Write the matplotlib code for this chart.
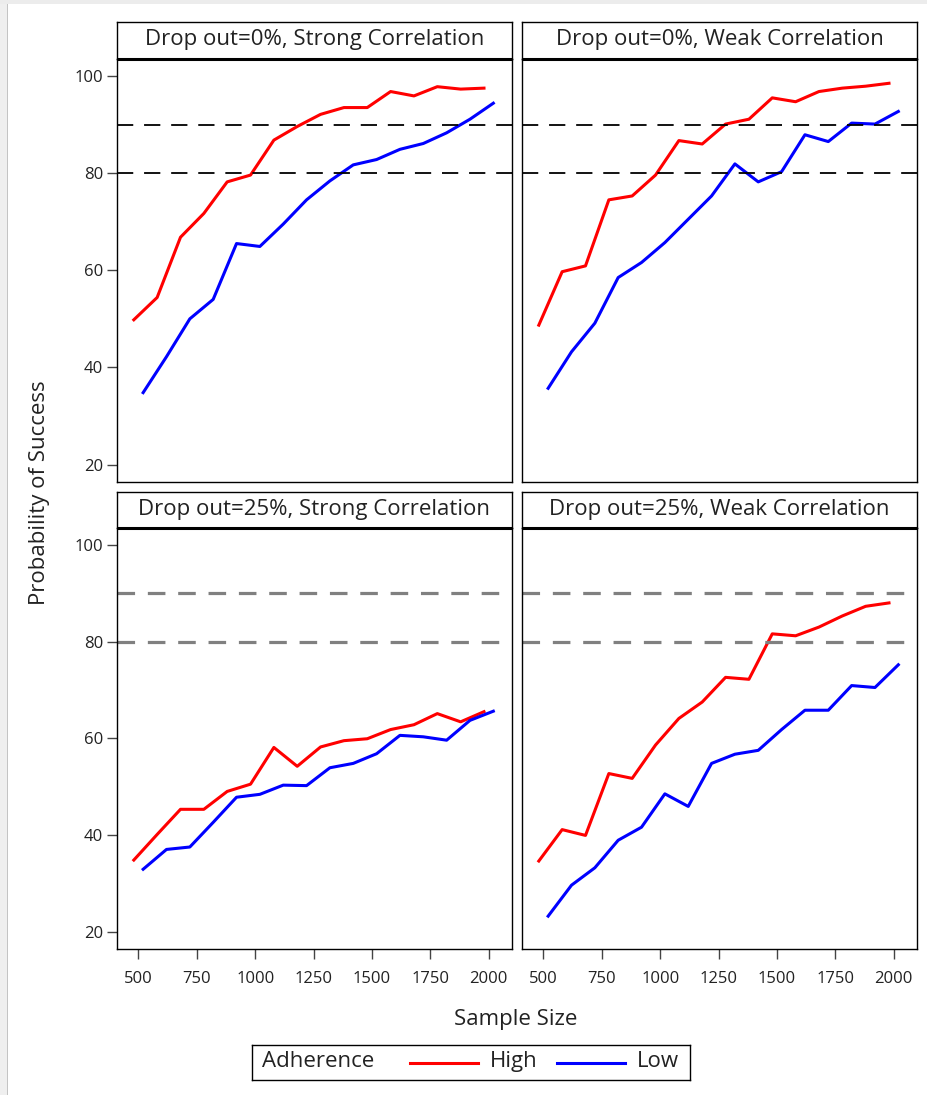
import matplotlib
matplotlib.use("Agg")
import matplotlib.pyplot as plt
from matplotlib.patches import Rectangle
import numpy as np

plt.rcParams['font.family'] = ['Open Sans', 'DejaVu Sans']

# sample sizes, the two adherence groups are dodged by +-20
sizes = np.arange(500, 2001, 100)
x_high = sizes - 20
x_low = sizes + 20

panel_titles = ["Drop out=0%, Strong Correlation", "Drop out=0%, Weak Correlation",
                "Drop out=25%, Strong Correlation", "Drop out=25%, Weak Correlation"]

high_d0_strong = [49.8, 54.4, 66.8, 71.7, 78.2, 79.6, 86.8, 89.6, 92.1, 93.5, 93.5, 96.8, 95.9, 97.8, 97.3, 97.5]
low_d0_strong = [34.8, 42.2, 50.0, 54.0, 65.5, 64.9, 69.5, 74.5, 78.4, 81.7, 82.8, 84.9, 86.1, 88.3, 91.1, 94.4]
high_d0_weak = [48.7, 59.7, 60.9, 74.5, 75.3, 79.6, 86.7, 86.0, 90.1, 91.1, 95.5, 94.7, 96.8, 97.5, 97.9, 98.5]
low_d0_weak = [35.7, 43.2, 49.1, 58.5, 61.6, 65.7, 70.5, 75.3, 81.9, 78.2, 80.3, 87.9, 86.5, 90.3, 90.1, 92.7]
high_d25_strong = [34.8, 40.1, 45.3, 45.3, 49.0, 50.5, 58.1, 54.2, 58.2, 59.5, 59.9, 61.8, 62.8, 65.1, 63.4, 65.5]
low_d25_strong = [32.9, 37.0, 37.5, 42.6, 47.8, 48.4, 50.3, 50.2, 53.9, 54.8, 56.8, 60.6, 60.3, 59.6, 63.7, 65.6]
high_d25_weak = [34.6, 41.1, 39.9, 52.7, 51.7, 58.6, 64.1, 67.5, 72.6, 72.2, 81.6, 81.2, 83.0, 85.3, 87.3, 88.0]
low_d25_weak = [23.2, 29.6, 33.2, 38.9, 41.6, 48.5, 45.9, 54.8, 56.7, 57.5, 61.8, 65.8, 65.8, 70.9, 70.5, 75.2]

high_series = [high_d0_strong, high_d0_weak, high_d25_strong, high_d25_weak]
low_series = [low_d0_strong, low_d0_weak, low_d25_strong, low_d25_weak]

ref_lines = [80, 90]
yticks = [20, 40, 60, 80, 100]
xticks = [500, 750, 1000, 1250, 1500, 1750, 2000]

W, H = 927, 1095
fig = plt.figure(figsize=(W / 100, H / 100), dpi=100)
TXT = '#222222'
FS = 16


def px_axes(x0, y0, x1, y1):
    # axes from pixel box (top-left origin)
    return fig.add_axes([x0 / W, 1 - y1 / H, (x1 - x0) / W, (y1 - y0) / H])


# screenshot frame at left / top
fig.patches.append(Rectangle((0, 0), 7 / W, 1, transform=fig.transFigure,
                             facecolor='#efefef', edgecolor='none'))
fig.patches.append(Rectangle((7 / W, 0), 1.2 / W, 1, transform=fig.transFigure,
                             facecolor='#c4c4c4', edgecolor='none'))
fig.patches.append(Rectangle((0, 1 - 4 / H), 1, 4 / H, transform=fig.transFigure,
                             facecolor='#ececec', edgecolor='none'))

cols = [(117, 512), (522, 917)]
rows = [(22, 59, 482), (492, 528, 949)]

for i in range(4):
    r, c = divmod(i, 2)
    x0, x1 = cols[c]
    hy0, py0, py1 = rows[r]

    # header cell
    hax = px_axes(x0, hy0, x1, py0)
    hax.set_xticks([])
    hax.set_yticks([])
    for s in hax.spines.values():
        s.set_linewidth(1.0)
    hax.text(0.5, 0.52, panel_titles[i], ha='center', va='center', fontsize=FS,
             color=TXT, transform=hax.transAxes)

    ax = px_axes(x0, py0, x1, py1)
    ax.plot(x_high, high_series[i], color='#ff0000', lw=2.2, solid_joinstyle='round')
    ax.plot(x_low, low_series[i], color='#0000ff', lw=2.2, solid_joinstyle='round')
    for v in ref_lines:
        if r == 0:
            ax.axhline(v, color='black', lw=1.3, dashes=(9, 6))
        else:
            ax.axhline(v, color='#808080', lw=2.3, dashes=(5.5, 4))
    ax.set_xlim(408, 2100)
    ax.set_ylim(16.4, 103.5)
    ax.set_yticks(yticks)
    ax.set_xticks(xticks)
    for s in ax.spines.values():
        s.set_linewidth(1.0)
    ax.spines['top'].set_linewidth(2.2)
    ax.spines['top'].set_capstyle('butt')
    ax.tick_params(direction='out', length=7, width=1, color='#444444',
                   labelsize=12, labelcolor=TXT)
    ax.tick_params(axis='y', pad=3)
    ax.tick_params(axis='x', pad=9)
    if c == 1:
        ax.tick_params(axis='y', left=False, labelleft=False)
    if r == 0:
        ax.tick_params(axis='x', bottom=False, labelbottom=False)

fig.text(40 / W, 1 - 493 / H, 'Probability of Success', rotation=90, ha='center',
         va='center', fontsize=FS, color=TXT)
fig.text(516 / W, 1 - 1020 / H, 'Sample Size', ha='center', va='center',
         fontsize=FS, color=TXT)

# legend
lax = px_axes(252, 1045, 690, 1080)
lax.set_xlim(0, 438)
lax.set_ylim(0, 1)
lax.set_xticks([])
lax.set_yticks([])
for s in lax.spines.values():
    s.set_linewidth(1.0)
lax.text(10, 0.52, 'Adherence', ha='left', va='center', fontsize=FS, color=TXT)
lax.plot([158, 226], [0.5, 0.5], color='#ff0000', lw=2.2)
lax.text(238, 0.52, 'High', ha='left', va='center', fontsize=FS, color=TXT)
lax.plot([305, 373], [0.5, 0.5], color='#0000ff', lw=2.2)
lax.text(385, 0.52, 'Low', ha='left', va='center', fontsize=FS, color=TXT)

fig.savefig('out.png', dpi=100)
